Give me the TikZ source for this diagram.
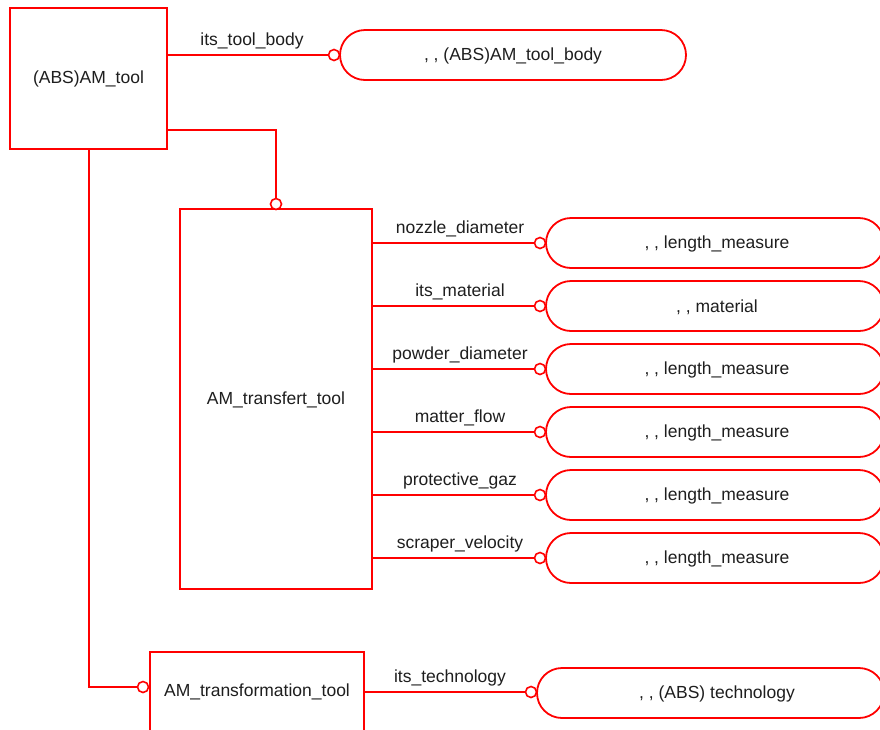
\documentclass[tikz,border=0pt]{standalone}
\usepackage{fontspec}
\setmainfont{Liberation Sans}
\definecolor{txtc}{HTML}{1E1E1E}
\begin{document}
\begin{tikzpicture}[x=1pt,y=-1pt,
  ent/.style={draw=red, line width=1.8pt, fill=white, inner sep=0pt},
  typ/.style={draw=red, line width=1.8pt, rounded corners=25pt, inner sep=0pt},
  lnk/.style={draw=red, line width=1.8pt},
  circ/.style={draw=red, line width=1.6pt, fill=white, circle, minimum size=11pt, inner sep=0pt},
  lab/.style={font=\fontsize{17.5}{20}\selectfont, anchor=base, text=txtc},
  txt/.style={font=\fontsize{17.5}{20}\selectfont, text=txtc}]
\useasboundingbox (0,0) rectangle (880,729);
\clip (0,0) rectangle (880,729);
% entities
\draw[ent] (10,8) rectangle (167,149);
\node[txt] (abs) at (88.5,79) {(ABS)AM\_tool};
\coordinate (absE1) at (167,55);
\coordinate (absE2) at (167,130);
\coordinate (absS) at (89,149);
\draw[ent] (180,209) rectangle (372,589);
\node[txt] (tr) at (276,400) {AM\_transfert\_tool};
\draw[ent] (150,652) rectangle (364,740);
\node[txt] (tf) at (257,692) {AM\_transformation\_tool};
% type boxes
\draw[typ] (340,30) rectangle (686,80);
\node[txt] (tb) at (513,56) {, , (ABS)AM\_tool\_body};
\foreach \y/\t [count=\i] in {243/{, , length\_measure},306/{, , material},369/{, , length\_measure},432/{, , length\_measure},495/{, , length\_measure},558/{, , length\_measure}}{
  \draw[typ] (546,\y-25) rectangle (884,\y+25);
  \node[txt] (t\i) at (717,\y+1) {\t};
}
\draw[typ] (537,668) rectangle (884,718);
\node[txt] (tt) at (717,694) {, , (ABS) technology};
% connectors
\draw[lnk] (absE1) -- (334,55);
\node[circ] (c0) at (334,55) {};
\node[lab] at (252,45) {its\_tool\_body};
\draw[lnk] (absE2) -- (276,130) -- (276,204);
\node[circ] (c1) at (276,204) {};
\draw[lnk] (absS) -- (89,687) -- (143,687);
\node[circ] (c2) at (143,687) {};
\foreach \y/\l in {243/nozzle\_diameter,306/its\_material,369/powder\_diameter,432/matter\_flow,495/protective\_gaz,558/scraper\_velocity}{
  \draw[lnk] (372,\y) -- (540,\y);
  \node[circ] at (540,\y) {};
  \node[lab] at (460,\y-10) {\l};
}
\draw[lnk] (364,692) -- (531,692);
\node[circ] (c3) at (531,692) {};
\node[lab] at (450,682) {its\_technology};
\end{tikzpicture}
\end{document}
